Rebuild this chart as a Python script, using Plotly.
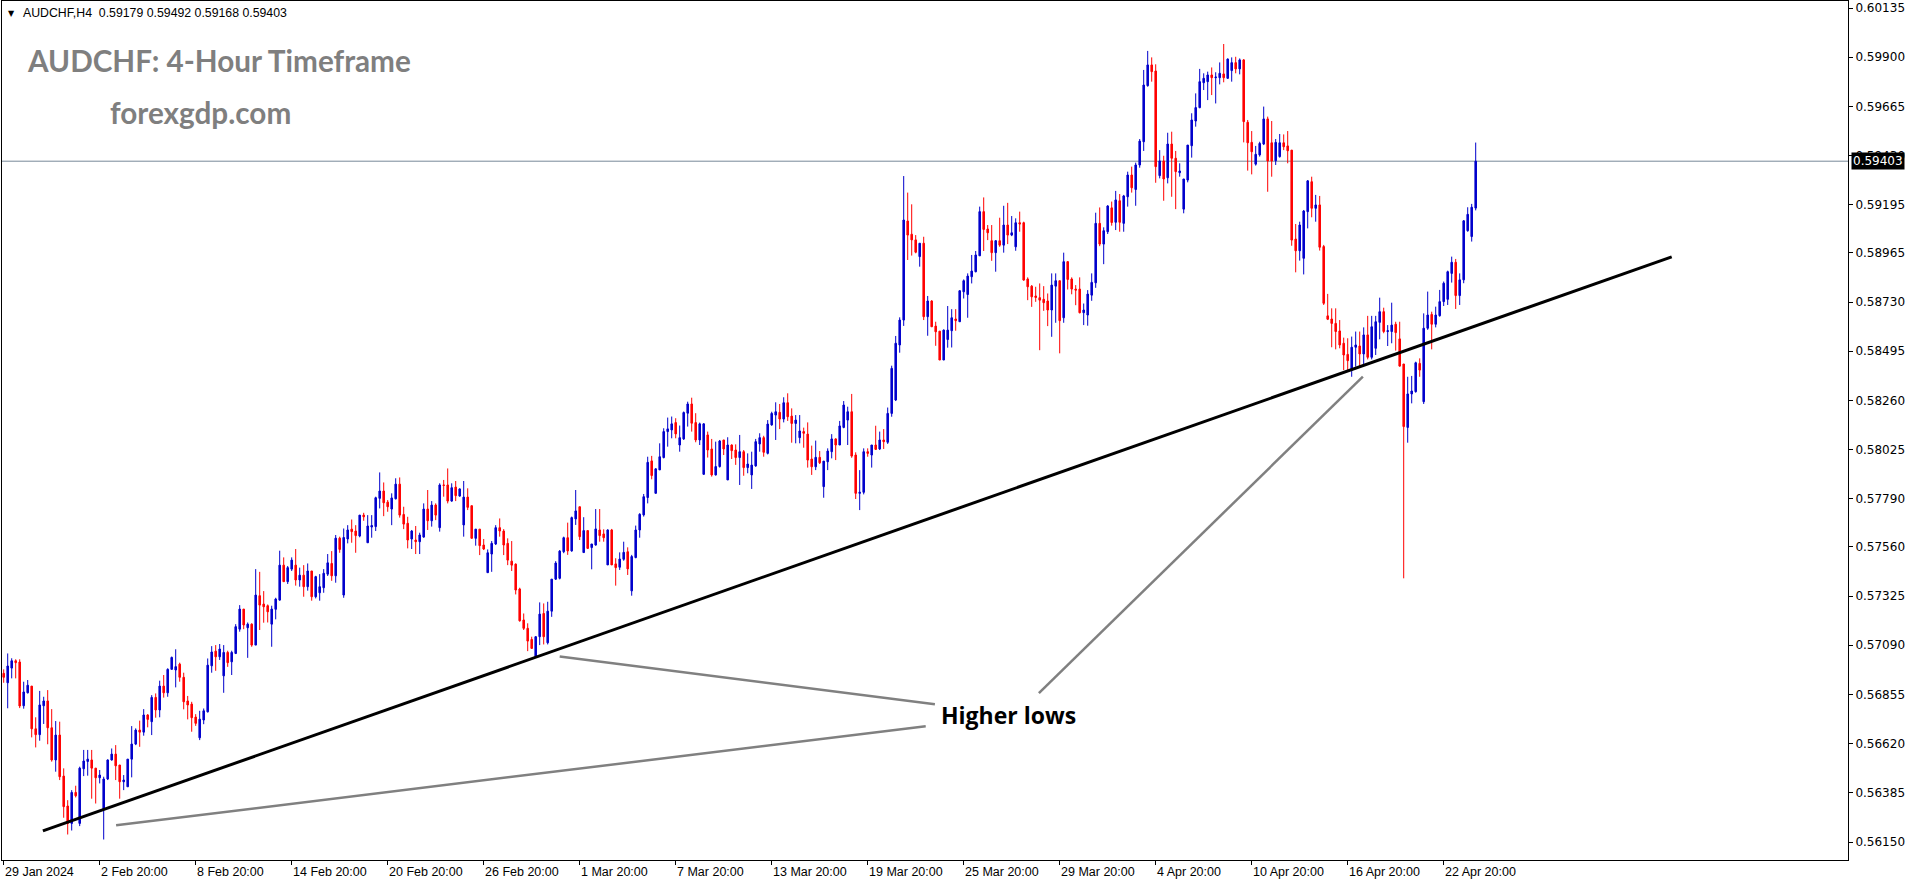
import plotly.graph_objects as go

# ---------------- data (AUDCHF H4) ----------------
opens = [
0.56956,0.56911,0.56981,0.57016,0.57010,0.56801,0.56863,0.56895,0.56691,0.56663,
0.56801,0.56824,0.56696,0.56542,0.56661,0.56465,0.56322,0.56239,0.56387,0.56239,
0.56500,0.56535,0.56542,0.56503,0.56457,0.56306,0.56451,0.56542,0.56570,0.56518,
0.56438,0.56414,0.56546,0.56618,0.56685,0.56675,0.56757,0.56725,0.56841,0.56781,
0.56895,0.56863,0.56975,0.56972,0.57000,0.56937,0.56824,0.56809,0.56747,0.56648,
0.56733,0.56772,0.56992,0.57062,0.57035,0.56944,0.57056,0.57011,0.57051,0.57167,
0.57263,0.57174,0.57191,0.57091,0.57327,0.57287,0.57279,0.57191,0.57262,0.57306,
0.57473,0.57394,0.57454,0.57473,0.57402,0.57425,0.57370,0.57445,0.57322,0.57341,
0.57365,0.57430,0.57481,0.57422,0.57602,0.57330,0.57598,0.57645,0.57636,0.57612,
0.57712,0.57580,0.57655,0.57657,0.57792,0.57827,0.57774,0.57741,0.57790,0.57860,
0.57715,0.57673,0.57598,0.57593,0.57585,0.57607,0.57741,0.57685,0.57760,0.57652,
0.57856,0.57856,0.57779,0.57846,0.57803,0.57665,0.57798,0.57757,0.57601,0.57645,
0.57569,0.57437,0.57526,0.57574,0.57652,0.57636,0.57577,0.57492,0.57478,0.57359,
0.57211,0.57171,0.57118,0.57035,0.57131,0.57242,0.57102,0.57253,0.57406,0.57410,
0.57537,0.57604,0.57541,0.57694,0.57752,0.57533,0.57638,0.57557,0.57569,0.57641,
0.57622,0.57474,0.57641,0.57479,0.57463,0.57501,0.57537,0.57350,0.57509,0.57641,
0.57713,0.57796,0.57971,0.57816,0.57928,0.57987,0.58111,0.58119,0.58154,0.58047,
0.58076,0.58199,0.58243,0.58154,0.58071,0.57907,0.58095,0.58028,0.57904,0.57944,
0.58071,0.57880,0.58047,0.58023,0.57987,0.58015,0.57939,0.57904,0.57947,0.58052,
0.58082,0.58007,0.58143,0.58190,0.58203,0.58171,0.58249,0.58185,0.58150,0.58082,
0.58111,0.58099,0.57980,0.57943,0.57988,0.57848,0.57967,0.58015,0.58076,0.58047,
0.58131,0.58166,0.58206,0.57999,0.57816,0.57821,0.58015,0.57999,0.58047,0.58028,
0.58071,0.58060,0.58198,0.58262,0.58525,0.58644,0.59117,0.59054,0.59027,0.58947,
0.59011,0.58660,0.58735,0.58615,0.58591,0.58453,0.58551,0.58593,0.58649,0.58636,
0.58779,0.58766,0.58851,0.58875,0.58951,0.59162,0.59079,0.59023,0.58966,0.59023,
0.59002,0.59098,0.59050,0.58994,0.59109,0.59109,0.58840,0.58806,0.58759,0.58751,
0.58743,0.58735,0.58692,0.58806,0.58832,0.58655,0.58923,0.58840,0.58792,0.58792,
0.58679,0.58668,0.58763,0.58822,0.59106,0.59007,0.59066,0.59180,0.59111,0.59214,
0.59106,0.59233,0.59337,0.59268,0.59385,0.59496,0.59764,0.59863,0.59834,0.59334,
0.59404,0.59324,0.59485,0.59417,0.59348,0.59174,0.59313,0.59477,0.59595,0.59659,
0.59778,0.59783,0.59815,0.59802,0.59802,0.59820,0.59799,0.59836,0.59874,0.59844,
0.59887,0.59589,0.59493,0.59389,0.59433,0.59485,0.59605,0.59491,0.59405,0.59425,
0.59491,0.59476,0.59456,0.59031,0.58975,0.58939,0.59162,0.59305,0.59178,0.59194,
0.58995,0.58664,0.58649,0.58628,0.58592,0.58533,0.58480,0.58405,0.58514,0.58520,
0.58482,0.58573,0.58466,0.58509,0.58633,0.58684,0.58589,0.58589,0.58624,0.58554,
0.58434,0.58131,0.58291,0.58302,0.58437,0.58254,0.58605,0.58671,0.58624,0.58665,
0.58732,0.58743,0.58867,0.58920,0.58761,0.58836,0.59071,0.59043,0.59179]

highs = [
0.56975,0.57051,0.57028,0.57023,0.57023,0.56916,0.56924,0.56895,0.56746,0.56872,
0.56844,0.56876,0.56785,0.56728,0.56725,0.56502,0.56350,0.56398,0.56419,0.56510,
0.56590,0.56590,0.56590,0.56503,0.56494,0.56462,0.56545,0.56597,0.56613,0.56518,
0.56470,0.56546,0.56704,0.56693,0.56730,0.56785,0.56761,0.56852,0.56860,0.56921,
0.56948,0.56980,0.57036,0.57071,0.57007,0.56959,0.56848,0.56820,0.56761,0.56777,
0.56788,0.57027,0.57086,0.57091,0.57096,0.57091,0.57064,0.57064,0.57191,0.57282,
0.57263,0.57199,0.57195,0.57454,0.57441,0.57349,0.57285,0.57279,0.57317,0.57542,
0.57510,0.57469,0.57510,0.57550,0.57461,0.57473,0.57481,0.57445,0.57422,0.57430,
0.57454,0.57526,0.57540,0.57617,0.57609,0.57648,0.57664,0.57691,0.57664,0.57712,
0.57723,0.57712,0.57712,0.57800,0.57916,0.57868,0.57784,0.57816,0.57888,0.57892,
0.57752,0.57704,0.57641,0.57660,0.57628,0.57768,0.57832,0.57779,0.57768,0.57864,
0.57880,0.57935,0.57864,0.57875,0.57840,0.57875,0.57840,0.57757,0.57645,0.57645,
0.57598,0.57548,0.57588,0.57664,0.57696,0.57645,0.57601,0.57588,0.57481,0.57365,
0.57242,0.57195,0.57131,0.57134,0.57295,0.57290,0.57298,0.57406,0.57492,0.57545,
0.57609,0.57676,0.57705,0.57832,0.57752,0.57702,0.57638,0.57574,0.57741,0.57741,
0.57644,0.57644,0.57646,0.57506,0.57534,0.57585,0.57558,0.57522,0.57662,0.57721,
0.57813,0.57991,0.57995,0.57936,0.58055,0.58127,0.58178,0.58183,0.58175,0.58140,
0.58207,0.58254,0.58273,0.58199,0.58154,0.58151,0.58111,0.58076,0.58063,0.58071,
0.58071,0.58084,0.58050,0.58050,0.58095,0.58023,0.58007,0.58015,0.58076,0.58103,
0.58091,0.58166,0.58206,0.58251,0.58243,0.58275,0.58294,0.58222,0.58190,0.58190,
0.58130,0.58155,0.58044,0.58068,0.58018,0.57970,0.58031,0.58099,0.58079,0.58162,
0.58257,0.58230,0.58291,0.58012,0.57927,0.58031,0.58031,0.58047,0.58139,0.58111,
0.58123,0.58226,0.58426,0.58568,0.58657,0.59332,0.59253,0.59197,0.59050,0.59011,
0.59042,0.58759,0.58739,0.58636,0.58591,0.58599,0.58711,0.58696,0.58696,0.58787,
0.58838,0.58867,0.58955,0.58974,0.59186,0.59230,0.59098,0.59098,0.59026,0.59133,
0.59190,0.59204,0.59141,0.59130,0.59162,0.59114,0.58848,0.58811,0.58803,0.58819,
0.58806,0.58771,0.58867,0.58867,0.58832,0.58966,0.58926,0.58848,0.58811,0.58848,
0.58723,0.58787,0.58867,0.59157,0.59182,0.59087,0.59193,0.59210,0.59261,0.59246,
0.59242,0.59353,0.59377,0.59396,0.59509,0.59839,0.59930,0.59899,0.59866,0.59456,
0.59429,0.59539,0.59544,0.59452,0.59393,0.59318,0.59480,0.59632,0.59727,0.59844,
0.59823,0.59831,0.59851,0.59828,0.59875,0.59963,0.59894,0.59899,0.59902,0.59894,
0.59891,0.59600,0.59547,0.59476,0.59496,0.59664,0.59616,0.59595,0.59509,0.59533,
0.59531,0.59547,0.59456,0.59103,0.59114,0.59170,0.59313,0.59329,0.59242,0.59237,
0.59003,0.58769,0.58700,0.58700,0.58644,0.58560,0.58557,0.58565,0.58589,0.58589,
0.58609,0.58664,0.58664,0.58664,0.58751,0.58703,0.58620,0.58727,0.58636,0.58636,
0.58434,0.58373,0.58377,0.58445,0.58461,0.58676,0.58780,0.58684,0.58708,0.58788,
0.58828,0.58880,0.58947,0.58936,0.58867,0.59122,0.59183,0.59199,0.59492]

lows = [
0.56911,0.56789,0.56932,0.56932,0.56790,0.56787,0.56860,0.56650,0.56602,0.56634,
0.56714,0.56617,0.56534,0.56486,0.56446,0.56266,0.56186,0.56205,0.56363,0.56226,
0.56465,0.56467,0.56357,0.56334,0.56430,0.56162,0.56446,0.56539,0.56446,0.56357,
0.56398,0.56414,0.56459,0.56613,0.56605,0.56658,0.56698,0.56661,0.56744,0.56746,
0.56840,0.56844,0.56975,0.56889,0.56916,0.56784,0.56736,0.56677,0.56705,0.56637,
0.56713,0.56769,0.56959,0.56968,0.57020,0.56863,0.56987,0.56948,0.57048,0.57155,
0.57167,0.57030,0.57083,0.57091,0.57163,0.57198,0.57199,0.57083,0.57214,0.57303,
0.57394,0.57383,0.57445,0.57375,0.57370,0.57322,0.57351,0.57303,0.57314,0.57303,
0.57341,0.57421,0.57398,0.57389,0.57532,0.57317,0.57577,0.57580,0.57532,0.57606,
0.57685,0.57580,0.57604,0.57636,0.57744,0.57707,0.57728,0.57664,0.57787,0.57700,
0.57645,0.57553,0.57550,0.57526,0.57526,0.57604,0.57641,0.57657,0.57688,0.57633,
0.57800,0.57768,0.57776,0.57779,0.57800,0.57609,0.57736,0.57601,0.57566,0.57521,
0.57545,0.57437,0.57441,0.57569,0.57609,0.57521,0.57473,0.57445,0.57333,0.57203,
0.57163,0.57062,0.57075,0.57031,0.57091,0.57094,0.57094,0.57226,0.57402,0.57405,
0.57530,0.57522,0.57537,0.57665,0.57593,0.57533,0.57550,0.57453,0.57566,0.57585,
0.57585,0.57474,0.57474,0.57375,0.57450,0.57494,0.57426,0.57327,0.57506,0.57604,
0.57705,0.57768,0.57883,0.57816,0.57928,0.57983,0.58039,0.58079,0.58079,0.58015,
0.58071,0.58135,0.58111,0.58060,0.58047,0.57904,0.57987,0.57896,0.57901,0.57939,
0.57999,0.57880,0.57980,0.57952,0.57856,0.57900,0.57912,0.57837,0.57943,0.58015,
0.57991,0.58002,0.58139,0.58071,0.58123,0.58155,0.58162,0.58058,0.58055,0.58055,
0.58034,0.57939,0.57904,0.57927,0.57956,0.57795,0.57927,0.57983,0.57975,0.58047,
0.58127,0.58047,0.57986,0.57789,0.57736,0.57811,0.57991,0.57939,0.58023,0.58023,
0.58028,0.58052,0.58182,0.58257,0.58488,0.58616,0.58931,0.58952,0.58963,0.58899,
0.58644,0.58569,0.58612,0.58521,0.58453,0.58453,0.58512,0.58513,0.58593,0.58636,
0.58747,0.58655,0.58819,0.58872,0.58951,0.58974,0.59026,0.58927,0.58875,0.58994,
0.58966,0.59007,0.59045,0.58975,0.59066,0.58832,0.58739,0.58707,0.58731,0.58500,
0.58688,0.58615,0.58564,0.58631,0.58485,0.58631,0.58790,0.58767,0.58715,0.58676,
0.58620,0.58617,0.58736,0.58798,0.58997,0.58911,0.59055,0.59095,0.59074,0.59066,
0.59066,0.59186,0.59253,0.59190,0.59372,0.59452,0.59759,0.59783,0.59300,0.59321,
0.59214,0.59297,0.59233,0.59174,0.59329,0.59154,0.59302,0.59420,0.59568,0.59656,
0.59743,0.59695,0.59719,0.59679,0.59770,0.59780,0.59796,0.59783,0.59823,0.59818,
0.59493,0.59358,0.59340,0.59382,0.59425,0.59480,0.59257,0.59329,0.59385,0.59420,
0.59456,0.59393,0.58999,0.58872,0.58928,0.58862,0.59082,0.59135,0.59114,0.58976,
0.58716,0.58644,0.58514,0.58504,0.58509,0.58405,0.58405,0.58373,0.58421,0.58421,
0.58429,0.58456,0.58456,0.58477,0.58552,0.58581,0.58520,0.58533,0.58498,0.58421,
0.57410,0.58058,0.58246,0.58297,0.58373,0.58243,0.58597,0.58504,0.58609,0.58660,
0.58711,0.58716,0.58823,0.58697,0.58716,0.58820,0.59066,0.59019,0.59168]

closes = [
0.56937,0.56991,0.57016,0.57007,0.56800,0.56867,0.56899,0.56691,0.56663,0.56805,
0.56824,0.56696,0.56542,0.56661,0.56462,0.56319,0.56239,0.56387,0.56371,0.56503,
0.56537,0.56546,0.56503,0.56457,0.56470,0.56451,0.56542,0.56570,0.56514,0.56438,
0.56446,0.56546,0.56618,0.56685,0.56675,0.56757,0.56736,0.56841,0.56781,0.56895,
0.56863,0.56975,0.57032,0.56988,0.56937,0.56820,0.56805,0.56744,0.56717,0.56737,
0.56777,0.56995,0.57058,0.57035,0.57072,0.57056,0.57007,0.57056,0.57179,0.57263,
0.57187,0.57191,0.57091,0.57330,0.57282,0.57274,0.57250,0.57263,0.57311,0.57473,
0.57394,0.57461,0.57497,0.57402,0.57425,0.57370,0.57445,0.57322,0.57418,0.57370,
0.57434,0.57484,0.57422,0.57602,0.57548,0.57605,0.57641,0.57633,0.57614,0.57712,
0.57704,0.57660,0.57662,0.57795,0.57827,0.57771,0.57752,0.57794,0.57860,0.57712,
0.57669,0.57593,0.57636,0.57585,0.57617,0.57741,0.57685,0.57760,0.57712,0.57856,
0.57854,0.57779,0.57843,0.57805,0.57837,0.57798,0.57749,0.57601,0.57645,0.57566,
0.57550,0.57532,0.57577,0.57652,0.57636,0.57569,0.57497,0.57473,0.57354,0.57207,
0.57171,0.57110,0.57075,0.57131,0.57239,0.57131,0.57253,0.57406,0.57483,0.57540,
0.57604,0.57541,0.57700,0.57732,0.57609,0.57638,0.57553,0.57574,0.57646,0.57614,
0.57604,0.57641,0.57474,0.57461,0.57502,0.57534,0.57455,0.57514,0.57641,0.57716,
0.57800,0.57964,0.57901,0.57933,0.57991,0.58111,0.58124,0.58148,0.58100,0.58082,
0.58202,0.58243,0.58151,0.58071,0.58148,0.58148,0.58023,0.57904,0.57944,0.58066,
0.58028,0.58047,0.58020,0.57987,0.58015,0.57939,0.57956,0.57951,0.58063,0.58082,
0.58012,0.58147,0.58198,0.58206,0.58171,0.58249,0.58182,0.58150,0.58166,0.58114,
0.58103,0.57975,0.57943,0.57988,0.57962,0.57970,0.58018,0.58076,0.58047,0.58138,
0.58238,0.58206,0.57994,0.57816,0.57821,0.58015,0.58007,0.58047,0.58026,0.58071,
0.58063,0.58198,0.58413,0.58533,0.58644,0.59122,0.59050,0.59027,0.58968,0.59011,
0.58660,0.58735,0.58612,0.58588,0.58453,0.58596,0.58596,0.58655,0.58641,0.58784,
0.58832,0.58854,0.58878,0.58955,0.59162,0.59077,0.59061,0.58966,0.59023,0.59002,
0.59098,0.59050,0.59061,0.59109,0.59103,0.58835,0.58803,0.58755,0.58752,0.58739,
0.58727,0.58692,0.58811,0.58832,0.58641,0.58923,0.58838,0.58792,0.58787,0.58679,
0.58692,0.58768,0.58824,0.59106,0.59007,0.59071,0.59189,0.59110,0.59218,0.59111,
0.59237,0.59337,0.59276,0.59385,0.59499,0.59767,0.59863,0.59831,0.59377,0.59404,
0.59318,0.59485,0.59417,0.59353,0.59356,0.59318,0.59480,0.59600,0.59659,0.59783,
0.59799,0.59815,0.59802,0.59805,0.59823,0.59802,0.59891,0.59874,0.59844,0.59887,
0.59592,0.59491,0.59448,0.59436,0.59488,0.59605,0.59404,0.59404,0.59493,0.59491,
0.59472,0.59453,0.59026,0.58975,0.59098,0.59165,0.59309,0.59178,0.59194,0.58992,
0.58724,0.58648,0.58628,0.58589,0.58525,0.58477,0.58450,0.58514,0.58525,0.58482,
0.58573,0.58466,0.58612,0.58636,0.58684,0.58589,0.58593,0.58620,0.58584,0.58424,
0.58135,0.58291,0.58305,0.58440,0.58405,0.58605,0.58668,0.58624,0.58668,0.58732,
0.58820,0.58875,0.58920,0.58761,0.58836,0.59118,0.59149,0.59183,0.59403]

x_tick_bars = [0, 24, 48, 72, 96, 120, 144, 168, 192, 216, 240, 264, 288, 312, 336, 360]
x_tick_labels = ["29 Jan 2024", "2 Feb 20:00", "8 Feb 20:00", "14 Feb 20:00", "20 Feb 20:00",
                 "26 Feb 20:00", "1 Mar 20:00", "7 Mar 20:00", "13 Mar 20:00", "19 Mar 20:00",
                 "25 Mar 20:00", "29 Mar 20:00", "4 Apr 20:00", "10 Apr 20:00", "16 Apr 20:00",
                 "22 Apr 20:00"]
y_tick_values = [0.60135, 0.59900, 0.59665, 0.59430, 0.59195, 0.58965, 0.58730, 0.58495,
                 0.58260, 0.58025, 0.57790, 0.57560, 0.57325, 0.57090, 0.56855, 0.56620,
                 0.56385, 0.56150]

last_price = 0.59403
header_text = "AUDCHF,H4\u00a0\u00a00.59179 0.59492 0.59168 0.59403"

# trend line and annotation pointers: (bar0, price0, bar1, price1)
trend_line = (9.8, 0.56203, 417.0, 0.58946)
pointer_lines = [(139.0, 0.57036, 232.8, 0.56808),
                 (28.1, 0.56230, 230.5, 0.56703),
                 (258.8, 0.56861, 339.8, 0.58374)]

# ---------------- figure ----------------
W, H = 1916, 884
ML, MR, MT, MB = 2, 68, 1, 24
PW, PH = W - ML - MR, H - MT - MB

def px_x(x):
    return (x - ML) / PW

def px_y(y):
    return (H - MB - y) / PH

n = min(len(opens), len(highs), len(lows), len(closes))
o, h, l, c = opens[:n], highs[:n], lows[:n], closes[:n]
h = [max(a, b, d) for a, b, d in zip(h, o, c)]
l = [min(a, b, d) for a, b, d in zip(l, o, c)]

BLUE = "#0000CC"
RED = "#FF0000"

fig = go.Figure(go.Candlestick(
    x=list(range(n)), open=o, high=h, low=l, close=c,
    increasing=dict(line=dict(color=BLUE, width=1), fillcolor=BLUE),
    decreasing=dict(line=dict(color=RED, width=1), fillcolor=RED),
    whiskerwidth=0, hoverinfo="skip", showlegend=False,
))

x0 = (ML - 3.7) / 4.0
fig.update_layout(
    width=W, height=H,
    margin=dict(l=ML, r=MR, t=MT, b=MB, pad=0),
    paper_bgcolor="white", plot_bgcolor="white",
    showlegend=False, boxgap=0.45,
    xaxis=dict(range=[x0, x0 + PW / 4.0], showgrid=False, zeroline=False,
               showline=True, mirror=True, linecolor="black", linewidth=1,
               tickvals=x_tick_bars, ticks="outside", ticklen=4, tickcolor="black",
               showticklabels=False, rangeslider=dict(visible=False), fixedrange=True),
    yaxis=dict(side="right", range=[0.560641, 0.560641 + PH / 20929.0],
               tickvals=y_tick_values, ticktext=[f"{v:.5f}" for v in y_tick_values],
               ticks="outside", ticklen=4, tickcolor="black",
               showline=True, mirror=True, linecolor="black", linewidth=1,
               showgrid=False, zeroline=False,
               tickfont=dict(family="DejaVu Sans", size=12, color="black"),
               fixedrange=True),
)

shapes = []
shapes.append(dict(type="line", xref="paper", yref="y", x0=0, x1=1, y0=last_price, y1=last_price,
                   line=dict(color="#778899", width=1), layer="below"))
shapes.append(dict(type="line", xref="x", yref="y", x0=trend_line[0], y0=trend_line[1],
                   x1=trend_line[2], y1=trend_line[3], line=dict(color="black", width=3)))
for (a0, b0, a1, b1) in pointer_lines:
    shapes.append(dict(type="line", xref="x", yref="y", x0=a0, y0=b0, x1=a1, y1=b1,
                       line=dict(color="#808080", width=2.5)))
fig.update_layout(shapes=shapes)

ann = []
for b, t in zip(x_tick_bars, x_tick_labels):
    ann.append(dict(x=b, xref="x", y=0, yref="paper", text=t, showarrow=False,
                    xanchor="left", yanchor="top", xshift=-1, yshift=-3,
                    font=dict(family="Liberation Sans", size=12.5, color="black")))
ann.append(dict(x=1, xref="paper", y=last_price, yref="y", text="0.59403", showarrow=False,
                xanchor="left", yanchor="middle", xshift=3, bgcolor="black", borderpad=1,
                font=dict(family="DejaVu Sans", size=12, color="white")))
ann.append(dict(x=px_x(6), xref="paper", y=px_y(13), yref="paper", text="\u25BC", showarrow=False,
                xanchor="left", yanchor="middle", font=dict(family="DejaVu Sans", size=8, color="black")))
ann.append(dict(x=px_x(21), xref="paper", y=px_y(13), yref="paper", text=header_text, showarrow=False,
                xanchor="left", yanchor="middle",
                font=dict(family="Liberation Sans", size=12.3, color="black")))
ann.append(dict(x=px_x(25), xref="paper", y=px_y(60), yref="paper", text="<b>AUDCHF: 4-Hour Timeframe</b>",
                showarrow=False, xanchor="left", yanchor="middle",
                font=dict(family="Lato", size=29.7, color="#7f7f7f")))
ann.append(dict(x=px_x(108), xref="paper", y=px_y(113), yref="paper", text="<b>forexgdp.com</b>",
                showarrow=False, xanchor="left", yanchor="middle",
                font=dict(family="Lato", size=29.7, color="#7f7f7f")))
ann.append(dict(x=px_x(939), xref="paper", y=px_y(715), yref="paper", text="<b>Higher lows</b>",
                showarrow=False, xanchor="left", yanchor="middle",
                font=dict(family="Open Sans", size=23, color="black")))
fig.update_layout(annotations=ann)

fig.write_html(
    "out.html",
    config={"displayModeBar": False, "staticPlot": True},
    post_script="document.body.style.margin='0px';document.body.style.padding='0px';"
                "document.documentElement.style.overflow='hidden';",
)
